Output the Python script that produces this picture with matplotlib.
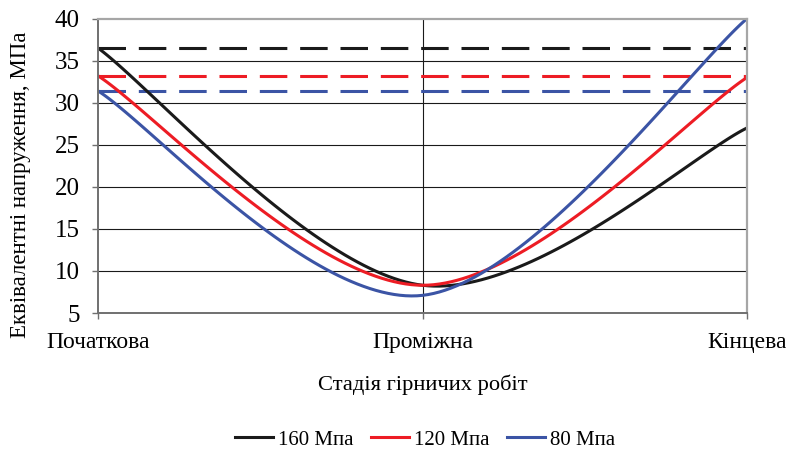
import numpy as np
import matplotlib
matplotlib.use("Agg")
import matplotlib.pyplot as plt
from matplotlib.lines import Line2D

stages = ["Початкова", "Проміжна", "Кінцева"]
s160 = [36.5, 8.3, 27.0]
s120 = [33.2, 8.3, 33.0]
s80 = [31.4, 7.1, 40.0]
lim160 = [36.5, 36.5, 36.5]
lim120 = [33.2, 33.2, 33.2]
lim80 = [31.4, 31.4, 31.4]
names = ["160 Мпа", "120 Мпа", "80 Мпа"]
colors = ["#1a1a1a", "#ed1c24", "#3b54a5"]


def smooth(x, y, n=60):
    # bezier through points, tangents like excel's smoothed line
    p = np.column_stack([x, y]).astype(float)
    k = len(p)
    out = []
    for i in range(k - 1):
        p0 = p[i - 1] if i > 0 else p[i]
        p3 = p[i + 2] if i + 2 < k else p[i + 1]
        c1 = p[i] + (p[i + 1] - p0) / 6
        c2 = p[i + 1] - (p3 - p[i]) / 6
        t = np.linspace(0, 1, n)[:, None]
        seg = ((1 - t) ** 3 * p[i] + 3 * (1 - t) ** 2 * t * c1
               + 3 * (1 - t) * t ** 2 * c2 + t ** 3 * p[i + 1])
        out.append(seg if i == 0 else seg[1:])
    out = np.vstack(out)
    return out[:, 0], out[:, 1]


plt.rcParams['font.family'] = ['Liberation Serif', 'DejaVu Serif']

fig = plt.figure(figsize=(7.86, 4.53), dpi=100)
ax = fig.add_axes([0.1247, 0.309, 0.8257, 0.650])

x = np.arange(len(stages))
lw = 2.2
for lim, c in zip([lim160, lim120, lim80], colors):
    ax.plot(x, lim, color=c, lw=lw, dashes=(9.0, 4.2), solid_capstyle='butt')
for s, c in zip([s160, s120, s80], colors):
    xs, ys = smooth(x, s)
    ax.plot(xs, ys, color=c, lw=lw, solid_capstyle='butt')

ax.set_xlim(0, 2)
ax.set_ylim(5, 40)
ax.set_yticks(np.arange(5, 41, 5))
ax.set_xticks(x)
ax.set_xticklabels(stages, fontsize=17)
ax.set_ylabel("Еквівалентні напруження, МПа", fontsize=16.5)
ax.yaxis.set_label_coords(-0.104, 0.434)
ax.set_xlabel("Стадія гірничих робіт", fontsize=16.2, labelpad=16)

for v in range(10, 40, 5):
    ax.axhline(v, color="#1a1a1a", lw=0.8, zorder=0)
ax.axvline(1, color="#1a1a1a", lw=0.8, zorder=0)

for side in ["top", "right"]:
    ax.spines[side].set_color("#a6a6a6")
    ax.spines[side].set_linewidth(1.6)
for side in ["left", "bottom"]:
    ax.spines[side].set_color("#707070")
    ax.spines[side].set_linewidth(1.4)
ax.tick_params(axis="both", direction="out", length=4.5, width=1, color="#707070")
ax.tick_params(axis="x", pad=9)
ax.tick_params(axis="y", pad=8.5, labelsize=18)

handles = [Line2D([], [], color=c, lw=lw) for c in colors]
fig.legend(handles, names, loc="center", bbox_to_anchor=(0.541, 0.029), ncol=3,
           frameon=False, handlelength=1.8, handletextpad=0.25, columnspacing=0.85,
           fontsize=15)

fig.savefig("out.png", dpi=100)
